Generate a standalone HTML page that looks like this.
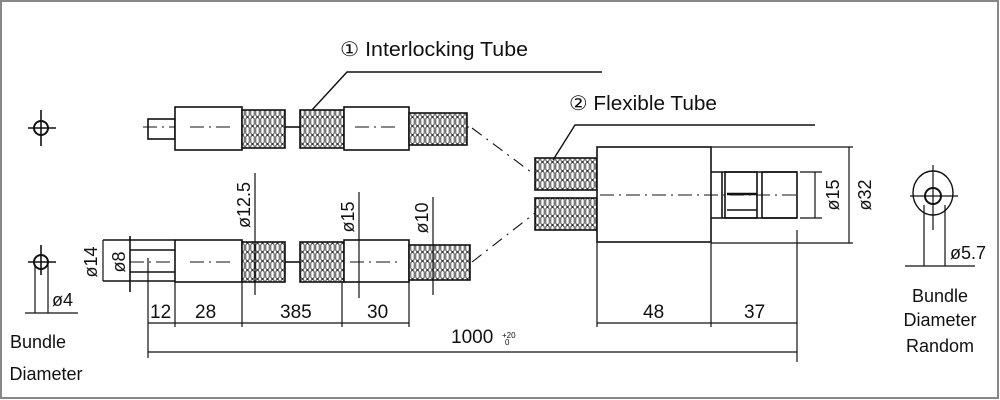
<!DOCTYPE html>
<html><head><meta charset="utf-8"><style>
html,body{margin:0;padding:0;background:#fff;}
svg{display:block;}
text{font-family:"Liberation Sans Narrow","Liberation Sans",sans-serif;fill:#111;}
</style></head><body>
<svg width="1000" height="400" viewBox="0 0 1000 400" xmlns="http://www.w3.org/2000/svg">
<defs>
<pattern id="coil" width="5" height="9" patternUnits="userSpaceOnUse">
<rect width="5" height="9" fill="#fff"/>
<rect x="0.8" y="0.5" width="3.4" height="8" rx="1.7" fill="none" stroke="#333" stroke-width="0.9"/>
</pattern>
</defs>
<rect x="1" y="1" width="997" height="397" fill="none" stroke="#888" stroke-width="2"/>
<g stroke="#111" stroke-width="1.6" fill="none">
<line x1="143" y1="127" x2="470" y2="127" stroke-width="1" stroke-dasharray="14,5,2,5"/>
<rect x="148" y="119" width="27" height="20"/>
<rect x="175" y="107" width="67" height="43" fill="#fff"/>
<rect x="242" y="110" width="43" height="38" fill="url(#coil)"/>
<line x1="285" y1="127" x2="300" y2="127"/>
<rect x="300" y="110" width="44" height="38" fill="url(#coil)"/>
<rect x="344" y="107" width="65" height="43" fill="#fff"/>
<rect x="409" y="113" width="58" height="32" fill="url(#coil)"/>
<line x1="190" y1="127" x2="230" y2="127" stroke-width="1" stroke-dasharray="14,5,2,5"/>
<line x1="355" y1="127" x2="400" y2="127" stroke-width="1" stroke-dasharray="14,5,2,5"/>
<polyline points="312,110 347,72 602,72" stroke-width="1.4"/>
<line x1="130" y1="262" x2="470" y2="262" stroke-width="1" stroke-dasharray="14,5,2,5"/>
<line x1="103" y1="240" x2="175" y2="240"/>
<line x1="103" y1="281" x2="175" y2="281"/>
<line x1="130" y1="236" x2="130" y2="292"/>
<line x1="130" y1="250" x2="175" y2="250"/>
<line x1="130" y1="272" x2="175" y2="272"/>
<line x1="103" y1="240" x2="103" y2="281" stroke-width="1.2"/>
<line x1="148" y1="258" x2="148" y2="358" stroke-width="1.2"/>
<rect x="175" y="240" width="67" height="42" fill="#fff"/>
<line x1="190" y1="262" x2="235" y2="262" stroke-width="1" stroke-dasharray="14,5,2,5"/>
<rect x="242" y="242" width="43" height="40" fill="url(#coil)"/>
<line x1="285" y1="262" x2="300" y2="262"/>
<rect x="300" y="242" width="44" height="40" fill="url(#coil)"/>
<rect x="344" y="240" width="65" height="42" fill="#fff"/>
<line x1="350" y1="262" x2="400" y2="262" stroke-width="1" stroke-dasharray="14,5,2,5"/>
<rect x="409" y="245" width="61" height="35" fill="url(#coil)"/>
<line x1="255" y1="173" x2="255" y2="295" stroke-width="1.2"/>
<line x1="359" y1="192" x2="359" y2="298" stroke-width="1.2"/>
<line x1="433" y1="197" x2="433" y2="295" stroke-width="1.2"/>
<line x1="175" y1="282" x2="175" y2="327" stroke-width="1.2"/>
<line x1="242" y1="282" x2="242" y2="327" stroke-width="1.2"/>
<line x1="342" y1="282" x2="342" y2="327" stroke-width="1.2"/>
<line x1="409" y1="282" x2="409" y2="327" stroke-width="1.2"/>
<line x1="148" y1="323" x2="409" y2="323" stroke-width="1.3"/>
<line x1="148" y1="352" x2="797" y2="352" stroke-width="1.3"/>
<line x1="472" y1="128" x2="535" y2="175" stroke-width="1.1" stroke-dasharray="12,6,2,6"/>
<line x1="472" y1="262" x2="535" y2="213" stroke-width="1.1" stroke-dasharray="12,6,2,6"/>
<rect x="535" y="158" width="62" height="32" fill="url(#coil)"/>
<rect x="535" y="198" width="62" height="32" fill="url(#coil)"/>
<rect x="597" y="147" width="114" height="95" fill="#fff"/>
<line x1="711" y1="172" x2="797" y2="172"/>
<line x1="711" y1="218" x2="797" y2="218"/>
<line x1="722" y1="172" x2="722" y2="218"/>
<rect x="725" y="172" width="32" height="46"/>
<rect x="762" y="172" width="35" height="46"/>
<line x1="727" y1="194" x2="757" y2="194" stroke-width="2.4"/>
<line x1="727" y1="210" x2="757" y2="210"/>
<line x1="600" y1="195" x2="800" y2="195" stroke-width="1" stroke-dasharray="14,5,2,5"/>
<polyline points="553,160 575,125 815,125" stroke-width="1.4"/>
<line x1="711" y1="147" x2="853" y2="147" stroke-width="1.2"/>
<line x1="711" y1="243" x2="853" y2="243" stroke-width="1.2"/>
<line x1="849" y1="147" x2="849" y2="243" stroke-width="1.2"/>
<line x1="800" y1="172" x2="822" y2="172" stroke-width="1.2"/>
<line x1="800" y1="218" x2="822" y2="218" stroke-width="1.2"/>
<line x1="815" y1="172" x2="815" y2="218" stroke-width="1.2"/>
<line x1="597" y1="242" x2="597" y2="327" stroke-width="1.2"/>
<line x1="711" y1="243" x2="711" y2="327" stroke-width="1.2"/>
<line x1="797" y1="230" x2="797" y2="362" stroke-width="1.2"/>
<line x1="597" y1="323" x2="797" y2="323" stroke-width="1.3"/>
<circle cx="41" cy="128" r="7" stroke-width="2"/>
<line x1="28" y1="128" x2="56" y2="128"/>
<line x1="41" y1="110" x2="41" y2="146"/>
<circle cx="41" cy="262" r="7" stroke-width="2"/>
<line x1="28" y1="262" x2="56" y2="262"/>
<line x1="41" y1="245" x2="41" y2="275"/>
<line x1="35" y1="265" x2="35" y2="313" stroke-width="1.2"/>
<line x1="48" y1="265" x2="48" y2="313" stroke-width="1.2"/>
<line x1="25" y1="313" x2="78" y2="313" stroke-width="1.2"/>
<ellipse cx="933" cy="193" rx="20" ry="22" stroke-width="1.4"/>
<circle cx="933" cy="196" r="8" stroke-width="2"/>
<line x1="910" y1="196" x2="958" y2="196" stroke-width="1.2"/>
<line x1="933" y1="165" x2="933" y2="230" stroke-width="1.2"/>
<line x1="924" y1="205" x2="924" y2="266" stroke-width="1.2"/>
<line x1="945" y1="205" x2="945" y2="266" stroke-width="1.2"/>
<line x1="905" y1="266" x2="975" y2="266" stroke-width="1.2"/>
</g>
<text x="340" y="56" font-size="20" textLength="188" lengthAdjust="spacingAndGlyphs">① Interlocking Tube</text>
<text x="569" y="110" font-size="20" textLength="148" lengthAdjust="spacingAndGlyphs">② Flexible Tube</text>
<text x="150" y="318" font-size="19">12</text>
<text x="195" y="318" font-size="19">28</text>
<text x="280" y="318" font-size="19">385</text>
<text x="367" y="318" font-size="19">30</text>
<text x="643" y="318" font-size="19">48</text>
<text x="744" y="318" font-size="19">37</text>
<text x="451" y="343" font-size="19">1000</text>
<text x="502" y="338" font-size="8">+20</text>
<text x="505" y="345" font-size="8">0</text>
<text x="52" y="306" font-size="18">ø4</text>
<text x="950" y="259" font-size="18">ø5.7</text>
<text x="38" y="348" font-size="18" text-anchor="middle">Bundle</text>
<text x="46" y="380" font-size="18" text-anchor="middle">Diameter</text>
<text x="940" y="302" font-size="18" text-anchor="middle">Bundle</text>
<text x="940" y="326" font-size="18" text-anchor="middle">Diameter</text>
<text x="940" y="352" font-size="18" text-anchor="middle">Random</text>
<text transform="translate(97,262) rotate(-90)" font-size="18" text-anchor="middle">ø14</text>
<text transform="translate(125,262) rotate(-90)" font-size="18" text-anchor="middle">ø8</text>
<text transform="translate(250,205) rotate(-90)" font-size="18" text-anchor="middle">ø12.5</text>
<text transform="translate(354,217) rotate(-90)" font-size="18" text-anchor="middle">ø15</text>
<text transform="translate(428,218) rotate(-90)" font-size="18" text-anchor="middle">ø10</text>
<text transform="translate(839,195) rotate(-90)" font-size="18" text-anchor="middle">ø15</text>
<text transform="translate(871,195) rotate(-90)" font-size="18" text-anchor="middle">ø32</text>
</svg>
</body></html>
